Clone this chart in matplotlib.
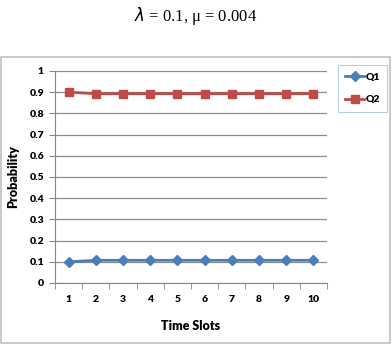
import matplotlib.pyplot as plt
from matplotlib.patches import Rectangle
import numpy as np

slots = [1, 2, 3, 4, 5, 6, 7, 8, 9, 10]
q1 = [0.100, 0.107, 0.107, 0.107, 0.107, 0.107, 0.107, 0.107, 0.107, 0.107]
q2 = [0.900, 0.893, 0.893, 0.893, 0.893, 0.893, 0.893, 0.893, 0.893, 0.893]
yticks = [0, 0.1, 0.2, 0.3, 0.4, 0.5, 0.6, 0.7, 0.8, 0.9, 1]

W, H = 392, 344
fig = plt.figure(figsize=(W / 100, H / 100), dpi=100)
font = 'Lato'

# title above the chart box
fig.text(196 / W, 1 - 16 / H, r'$\lambda$ = 0.1, μ = 0.004', ha='center', va='center',
         fontsize=12, family='Liberation Serif')

# chart border
fig.patches.append(Rectangle((1 / W, 1 / H), 389 / W, (343 - 57) / H, transform=fig.transFigure,
                             fill=False, edgecolor='#bfbfbf', linewidth=1.2))

ax = fig.add_axes([55 / W, 1 - 283 / H, (327 - 55) / W, (283 - 71) / H])
ax.plot(slots, q1, color='#4a7ebb', marker='D', markersize=5, linewidth=2, label='Q1')
ax.plot(slots, q2, color='#be4b48', marker='s', markersize=6, linewidth=2, label='Q2')

ax.set_xlim(0.5, 10.5)
ax.set_ylim(0, 1)
ax.set_yticks(yticks)
ax.set_yticklabels([f'{v:g}' for v in yticks])
ax.set_xticks(slots)
ax.set_xticks(np.arange(0.5, 11, 1), minor=True)
ax.tick_params(axis='x', which='major', length=0, pad=9)
ax.tick_params(axis='x', which='minor', length=4, color='#868686', direction='out')
ax.tick_params(axis='y', length=4, color='#868686', pad=4)
for lab in ax.get_xticklabels() + ax.get_yticklabels():
    lab.set_fontsize(7.5)
    lab.set_fontweight('heavy')
    lab.set_family(font)

ax.grid(axis='y', color='#8c8c8c', linewidth=0.9)
ax.set_axisbelow(True)
for s in ['top', 'right']:
    ax.spines[s].set_visible(False)
ax.spines['left'].set_color('#868686')
ax.spines['bottom'].set_color('#868686')

ax.set_xlabel('Time Slots', fontsize=9, fontweight='heavy', family=font, labelpad=11)
ax.set_ylabel('Probability', fontsize=9, fontweight='heavy', family=font, labelpad=7)

leg = ax.legend(loc='upper left', bbox_to_anchor=((338 - 55) / (327 - 55), 1 + (71 - 65) / (283 - 71)),
                frameon=True, fancybox=False, edgecolor='#a6bddb',
                prop={'family': font, 'weight': 'heavy', 'size': 7.5},
                handlelength=1.8, borderpad=0.7, labelspacing=1.3, handletextpad=0.15,
                borderaxespad=0)
leg.get_frame().set_linewidth(0.8)

fig.savefig('out.png', dpi=100)
